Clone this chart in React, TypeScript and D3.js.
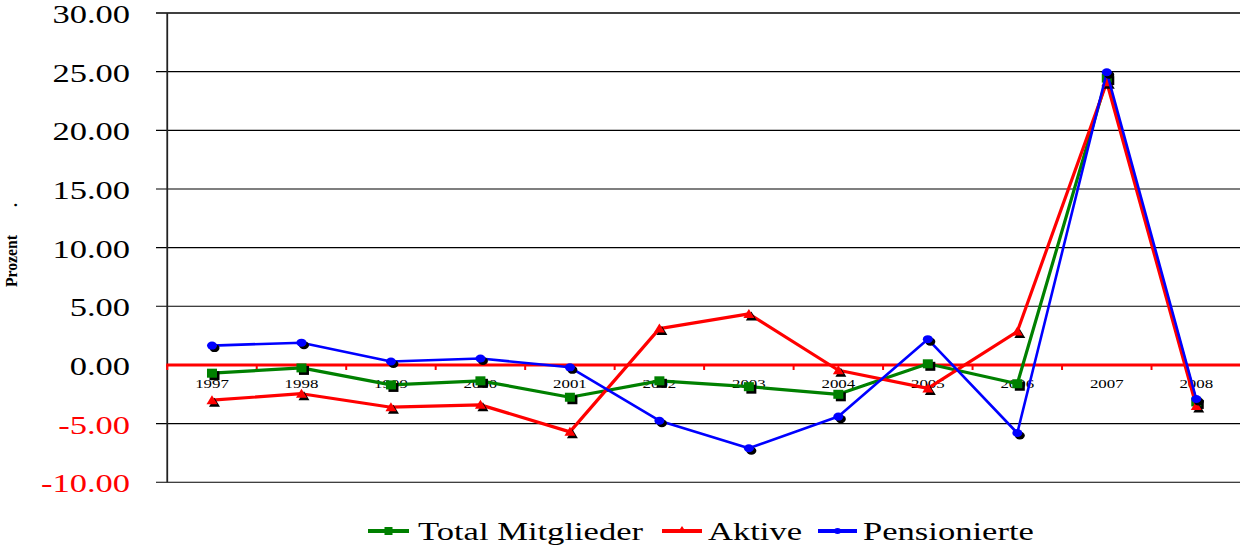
import React from "react";
import * as d3 from "d3";

const years = ["1997", "1998", "1999", "2000", "2001", "2002", "2003", "2004", "2005", "2006", "2007", "2008"];
const totalMitglieder = [-0.7, -0.25, -1.7, -1.35, -2.75, -1.35, -1.85, -2.5, 0.1, -1.6, 24.45, -3.15];
const aktive = [-3.0, -2.45, -3.6, -3.4, -5.7, 3.1, 4.35, -0.45, -2.0, 2.85, 24.1, -3.5];
const pensionierte = [1.65, 1.9, 0.3, 0.55, -0.2, -4.75, -7.1, -4.4, 2.2, -5.8, 24.95, -2.9];
const yTicks = [30, 25, 20, 15, 10, 5, 0, -5, -10];
const legendLabels = ["Total Mitglieder", "Aktive", "Pensionierte"];

const W = 1240;
const H = 548;
const left = 167.25;
const right = 1241;
const top = 13;
const bottom = 482.3;
const FONT = "'Liberation Serif', 'Times New Roman', serif";

export default function App() {
  const x = d3.scaleBand<string>().domain(years).range([left, right]).padding(0);
  const y = d3.scaleLinear().domain([-10, 30]).range([bottom, top]);
  const cx = (yr: string) => (x(yr) as number) + x.bandwidth() / 2;

  const series = [
    { name: legendLabels[0], values: totalMitglieder, color: "#008000", width: 3.2, shape: "square" },
    { name: legendLabels[1], values: aktive, color: "#FF0000", width: 3.2, shape: "triangle" },
    { name: legendLabels[2], values: pensionierte, color: "#0000FF", width: 2.6, shape: "circle" },
  ];

  const lineGen = d3
    .line<number>()
    .x((_, i) => cx(years[i]))
    .y((d) => y(d));

  const marker = (shape: string, px: number, py: number, fill: string, key: string) => {
    if (shape === "square") {
      return <rect key={key} x={px - 5} y={py - 4.5} width={10} height={9} fill={fill} />;
    }
    if (shape === "triangle") {
      return <path key={key} d={`M${px},${py - 5} L${px + 5.5},${py + 4} L${px - 5.5},${py + 4} Z`} fill={fill} />;
    }
    return <ellipse key={key} cx={px} cy={py} rx={5} ry={4} fill={fill} />;
  };

  const boundaries = years.map((yr) => x(yr) as number).concat([right]);

  const legendItems = [
    { lx1: 368, lx2: 409, tx: 418, color: "#008000", shape: "square" },
    { lx1: 662, lx2: 702, tx: 708, color: "#FF0000", shape: "triangle" },
    { lx1: 818, lx2: 857, tx: 863, color: "#0000FF", shape: "circle" },
  ];

  return (
    <svg width={W} height={H} style={{ position: "absolute", left: 0, top: 0, background: "#fff" }}>
      <rect x={0} y={0} width={W} height={H} fill="#fff" />
      {/* gridlines */}
      {yTicks.map((t) =>
        t === 0 ? null : (
          <line key={"g" + t} x1={156} x2={W} y1={y(t)} y2={y(t)} stroke="#000" strokeWidth={t === 30 ? 1.6 : 1.1} />
        )
      )}
      {/* y axis */}
      <line x1={left} x2={left} y1={top} y2={bottom} stroke="#222" strokeWidth={1.8} />
      {/* y labels */}
      {yTicks.map((t) => (
        <g key={"yl" + t} transform={`translate(130,${y(t) + 10}) scale(1.38,1)`}>
          <text x={0} y={0} textAnchor="end" fontFamily={FONT} fontSize={25} fill={t < 0 ? "#FF0000" : "#000"}>
            {t.toFixed(2)}
          </text>
        </g>
      ))}
      {/* y title */}
      <g transform={`translate(16.5,${261}) rotate(-90)`}>
        <text x={0} y={0} textAnchor="middle" fontFamily={FONT} fontSize={16} fontWeight="bold" textLength={52} lengthAdjust="spacingAndGlyphs">
          Prozent
        </text>
      </g>
      <g transform={`translate(16.5,${205}) rotate(-90)`}>
        <text x={0} y={0} textAnchor="middle" fontFamily={FONT} fontSize={16} fontWeight="bold">.</text>
      </g>
      {/* x labels */}
      {years.map((yr) => (
        <g key={"xl" + yr} transform={`translate(${cx(yr)},388) scale(1.25,1)`}>
          <text x={0} y={0} textAnchor="middle" fontFamily={FONT} fontSize={13.5} fill="#000">
            {yr}
          </text>
        </g>
      ))}
      {/* zero line */}
      <line x1={left - 1} x2={W} y1={y(0)} y2={y(0)} stroke="#FF0000" strokeWidth={3} />
      {boundaries.map((b, i) => (
        <line key={"zt" + i} x1={b} x2={b} y1={y(0)} y2={y(0) + 5} stroke="#FF0000" strokeWidth={2} />
      ))}
      {/* series */}
      {series.map((s) => (
        <g key={s.name}>
          <path d={lineGen(s.values) as string} fill="none" stroke={s.color} strokeWidth={s.width} strokeLinejoin="round" />
          {s.values.map((v, i) => marker(s.shape, cx(years[i]) + 2.5, y(v) + 2.5, "#000", "sh" + i))}
          {s.values.map((v, i) => marker(s.shape, cx(years[i]), y(v), s.color, "m" + i))}
        </g>
      ))}
      {/* legend */}
      {legendItems.map((l, i) => (
        <g key={"lg" + i}>
          <line x1={l.lx1} x2={l.lx2} y1={531} y2={531} stroke={l.color} strokeWidth={4} />
          {l.shape === "square" && <rect x={(l.lx1 + l.lx2) / 2 - 4} y={527} width={8} height={8} fill={l.color} />}
          {l.shape === "triangle" && (
            <path d={`M${(l.lx1 + l.lx2) / 2},${526} l4,6 l-8,0 Z`} fill={l.color} />
          )}
          {l.shape === "circle" && <ellipse cx={(l.lx1 + l.lx2) / 2} cy={531} rx={3.5} ry={3} fill={l.color} />}
          <g transform={`translate(${l.tx},540) scale(1.33,1)`}>
            <text x={0} y={0} fontFamily={FONT} fontSize={26} fill="#000">
              {legendLabels[i]}
            </text>
          </g>
        </g>
      ))}
    </svg>
  );
}
